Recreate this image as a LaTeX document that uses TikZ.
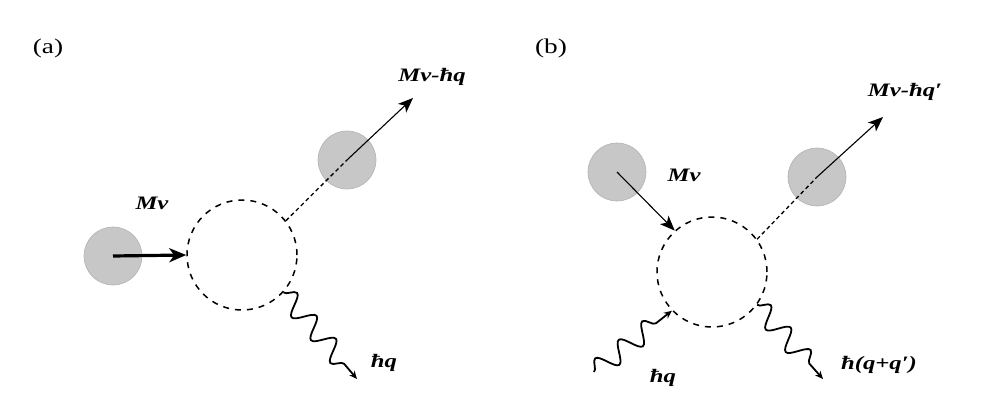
\documentclass[tikz,border=0pt]{standalone}
\usepackage{fontspec}
\setmainfont{Liberation Serif}
\usetikzlibrary{arrows.meta,decorations.pathmorphing}
\begin{document}
\begin{tikzpicture}[x=1pt,y=-1pt,
  ball/.style={circle,fill=black!22,draw=black!30,line width=0.6pt,minimum size=58pt,inner sep=0pt},
  vert/.style={circle,draw,dash pattern=on 6pt off 6pt,line width=1.5pt,minimum size=110pt,inner sep=0pt},
  lab/.style={font=\fontsize{19}{20}\selectfont\bfseries\itshape,inner sep=0pt},
  panel/.style={font=\fontsize{21}{22}\selectfont,inner sep=0pt},
  prop/.style={dash pattern=on 4pt off 3pt,line width=1.3pt},
  mom/.style={line width=1.1pt,-{Stealth[length=15pt,width=12pt,inset=4pt]}},
  photon/.style={line width=1.8pt,decoration={snake,amplitude=10pt,segment length=30pt,post length=10pt},decorate,-{Stealth[length=8pt,width=7pt,open]}}]
\useasboundingbox (0,0) rectangle (982,417);
% panel (a)
\node[panel] (pa) at (48,48) {\scalebox{1.3}[1]{(a)}};
\node[ball] (ba) at (113,256) {};
\node[vert] (va) at (242,255) {};
\draw[line width=3.2pt,-{Stealth[length=17pt,width=14pt,inset=5pt]}] (ba.center) -- (va.west);
\node[lab] (la1) at (152,203) {\scalebox{1.3}[1]{Mv}};
\node[ball] (bo) at (347,160) {};
\coordinate (ta) at (413,98);
\draw[prop] (va.38) -- (bo.center);
\draw[mom] (bo.center) -- (ta);
\node[lab] (la2) at (432,77) {\scalebox{1.3}[1]{Mv-ħq}};
\coordinate (wa) at (357,379);
\draw[photon] (va.-42) -- (wa);
\node[lab] (la3) at (384,363) {\scalebox{1.3}[1]{ħq}};
% panel (b)
\node[panel] (pb) at (551,48) {\scalebox{1.3}[1]{(b)}};
\node[ball] (bb) at (617,172) {};
\node[vert] (vb) at (712,272) {};
\draw[mom] (bb.center) -- (vb.132);
\node[lab] (lb1) at (684,175) {\scalebox{1.3}[1]{Mv}};
\node[ball] (bo2) at (817,177) {};
\coordinate (tb) at (883,117);
\draw[prop] (vb.36) -- (bo2.center);
\draw[mom] (bo2.center) -- (tb);
\node[lab] (lb2) at (905,92) {\scalebox{1.3}[1]{Mv-ħq′}};
\coordinate (wb) at (823,379);
\draw[photon] (vb.-36) -- (wb);
\node[lab] (lb3) at (879,365) {\scalebox{1.3}[1]{ħ(q+q′)}};
\coordinate (wi) at (594,372);
\draw[photon] (wi) -- (vb.224);
\node[lab] (lb4) at (663,378) {\scalebox{1.3}[1]{ħq}};
\end{tikzpicture}
\end{document}
